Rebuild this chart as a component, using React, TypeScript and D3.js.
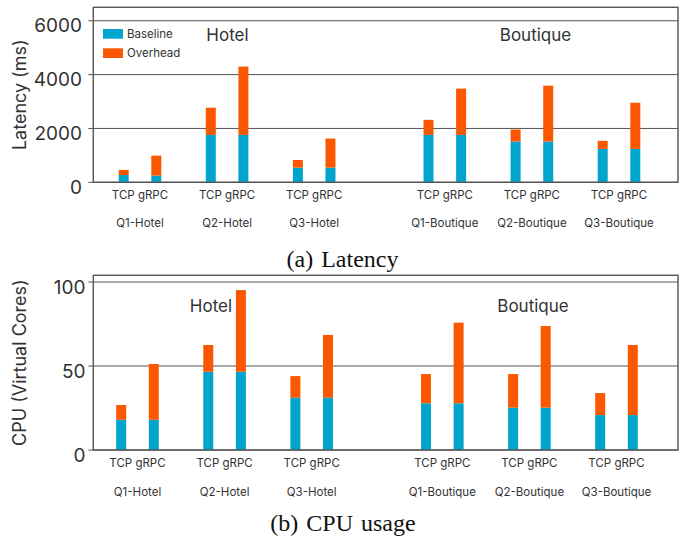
import React from "react";
import * as d3 from "d3";

// Workload groups (x positions leave a gap between Hotel and Boutique)
const groups = ["Q1-Hotel", "Q2-Hotel", "Q3-Hotel", "Q1-Boutique", "Q2-Boutique", "Q3-Boutique"];
const groupPos = [0, 1, 2, 3.5, 4.5, 5.5];
const protocols = ["TCP", "gRPC"];

// Latency (ms): baseline and total (baseline + overhead) per protocol
const latBaseTCP = [270, 1760, 545, 1760, 1515, 1240];
const latTotalTCP = [460, 2770, 830, 2320, 1960, 1540];
const latBaseGRPC = [250, 1760, 545, 1760, 1515, 1240];
const latTotalGRPC = [990, 4300, 1625, 3480, 3590, 2955];
const latTicks = [0, 2000, 4000, 6000];

// CPU usage (virtual cores)
const cpuBaseTCP = [18, 46.6, 31.1, 27.8, 25.2, 20.8];
const cpuTotalTCP = [26.8, 62.5, 44, 45.2, 45.2, 33.9];
const cpuBaseGRPC = [18, 46.6, 31.1, 27.8, 25.2, 20.8];
const cpuTotalGRPC = [51.2, 95.2, 68.5, 75.8, 73.8, 62.5];
const cpuTicks = [0, 50, 100];

const legendItems = ["Baseline", "Overhead"];

const BLUE = "#00a5cd";
const ORANGE = "#fa5700";
const TEXT = "#333";
const LINE = "#555";
const SANS = "Inter, 'Noto Sans', sans-serif";
const SERIF = "'Liberation Serif', 'Times New Roman', serif";

type PanelProps = {
  top: number;
  bottom: number;
  yMax: number;
  ticks: number[];
  baseTCP: number[];
  totalTCP: number[];
  baseGRPC: number[];
  totalGRPC: number[];
  xStart: number;
  xEnd: number;
  yTitle: string;
  tickLabelRight: number;
  labelY1: number;
  labelY2: number;
  siteLabels: { text: string; x: number; y: number }[];
  legend: boolean;
};

const LEFT = 93.3;
const RIGHT = 678;
const BAR_W = 10;
const BAR_OFF = 16.3;

function Panel(p: PanelProps) {
  const y = d3.scaleLinear().domain([0, p.yMax]).range([p.bottom, p.top]);
  const x = d3.scaleLinear().domain([0, 5.5]).range([p.xStart, p.xEnd]);
  const series = [
    { base: p.baseTCP, total: p.totalTCP, off: -BAR_OFF },
    { base: p.baseGRPC, total: p.totalGRPC, off: BAR_OFF },
  ];
  return (
    <g>
      {/* grid lines and outward ticks */}
      {p.ticks.map((t) => (
        <g key={t}>
          <line x1={LEFT - 5} x2={RIGHT} y1={y(t)} y2={y(t)} stroke={LINE} strokeWidth={1} />
          <text
            x={p.tickLabelRight}
            y={y(t)}
            dy={5}
            textAnchor="end"
            dominantBaseline="central"
            fontFamily={SANS}
            fontSize={19}
            fill={TEXT}
          >
            {t}
          </text>
        </g>
      ))}
      {/* stacked bars */}
      {series.map((s, si) =>
        groupPos.map((g, i) => {
          const cx = x(g) + s.off;
          return (
            <g key={`${si}-${i}`}>
              <rect x={cx - BAR_W / 2} width={BAR_W} y={y(s.base[i])} height={y(0) - y(s.base[i])} fill={BLUE} />
              <rect
                x={cx - BAR_W / 2}
                width={BAR_W}
                y={y(s.total[i])}
                height={y(s.base[i]) - y(s.total[i])}
                fill={ORANGE}
              />
            </g>
          );
        })
      )}
      {/* frame */}
      <rect x={LEFT} y={p.top} width={RIGHT - LEFT} height={p.bottom - p.top} fill="none" stroke={LINE} strokeWidth={1.4} />
      {/* category labels */}
      {groups.map((name, i) => (
        <g key={name}>
          <text x={x(groupPos[i])} y={p.labelY1} textAnchor="middle" dominantBaseline="central" fontFamily={SANS} fontSize={11.5} fill={TEXT}>
            {protocols.join(" ")}
          </text>
          <text x={x(groupPos[i])} y={p.labelY2} textAnchor="middle" dominantBaseline="central" fontFamily={SANS} fontSize={11.5} fill={TEXT}>
            {name}
          </text>
        </g>
      ))}
      {p.siteLabels.map((s) => (
        <text key={s.text} x={s.x} y={s.y} textAnchor="middle" fontFamily={SANS} fontSize={17} fill={TEXT}>
          {s.text}
        </text>
      ))}
      <text
        transform={`translate(19.5,${(p.top + p.bottom) / 2}) rotate(-90)`}
        textAnchor="middle"
        dominantBaseline="central"
        fontFamily={SANS}
        fontSize={18}
        fill={TEXT}
      >
        {p.yTitle}
      </text>
      {p.legend &&
        legendItems.map((name, i) => (
          <g key={name} transform={`translate(103,${29 + i * 19.3})`}>
            <rect width={20} height={9.7} fill={i === 0 ? BLUE : ORANGE} />
            <text x={24} y={5} dominantBaseline="central" fontFamily={SANS} fontSize={11.5} fill={TEXT}>
              {name}
            </text>
          </g>
        ))}
    </g>
  );
}

export default function App() {
  return (
    <svg width={680} height={539} style={{ position: "absolute", left: 0, top: 0 }}>
      <rect width={680} height={539} fill="#fff" />
      <Panel
        top={7.3}
        bottom={182.3}
        yMax={6500}
        ticks={latTicks}
        baseTCP={latBaseTCP}
        totalTCP={latTotalTCP}
        baseGRPC={latBaseGRPC}
        totalGRPC={latTotalGRPC}
        xStart={140}
        xEnd={619}
        yTitle="Latency (ms)"
        tickLabelRight={82}
        labelY1={195}
        labelY2={223}
        siteLabels={[
          { text: "Hotel", x: 227.5, y: 41 },
          { text: "Boutique", x: 535.5, y: 41 },
        ]}
        legend={true}
      />
      <text x={342.5} y={267} textAnchor="middle" fontFamily={SERIF} fontSize={24} fill="#111" wordSpacing={2}>
        (a) Latency
      </text>
      <Panel
        top={275.3}
        bottom={450}
        yMax={104}
        ticks={cpuTicks}
        baseTCP={cpuBaseTCP}
        totalTCP={cpuTotalTCP}
        baseGRPC={cpuBaseGRPC}
        totalGRPC={cpuTotalGRPC}
        xStart={137.5}
        xEnd={616.5}
        yTitle="CPU (Virtual Cores)"
        tickLabelRight={85.5}
        labelY1={462.7}
        labelY2={491.7}
        siteLabels={[
          { text: "Hotel", x: 211, y: 311.5 },
          { text: "Boutique", x: 533, y: 311.5 },
        ]}
        legend={false}
      />
      <text x={343} y={531} textAnchor="middle" fontFamily={SERIF} fontSize={24} fill="#111" wordSpacing={2}>
        (b) CPU usage
      </text>
    </svg>
  );
}
